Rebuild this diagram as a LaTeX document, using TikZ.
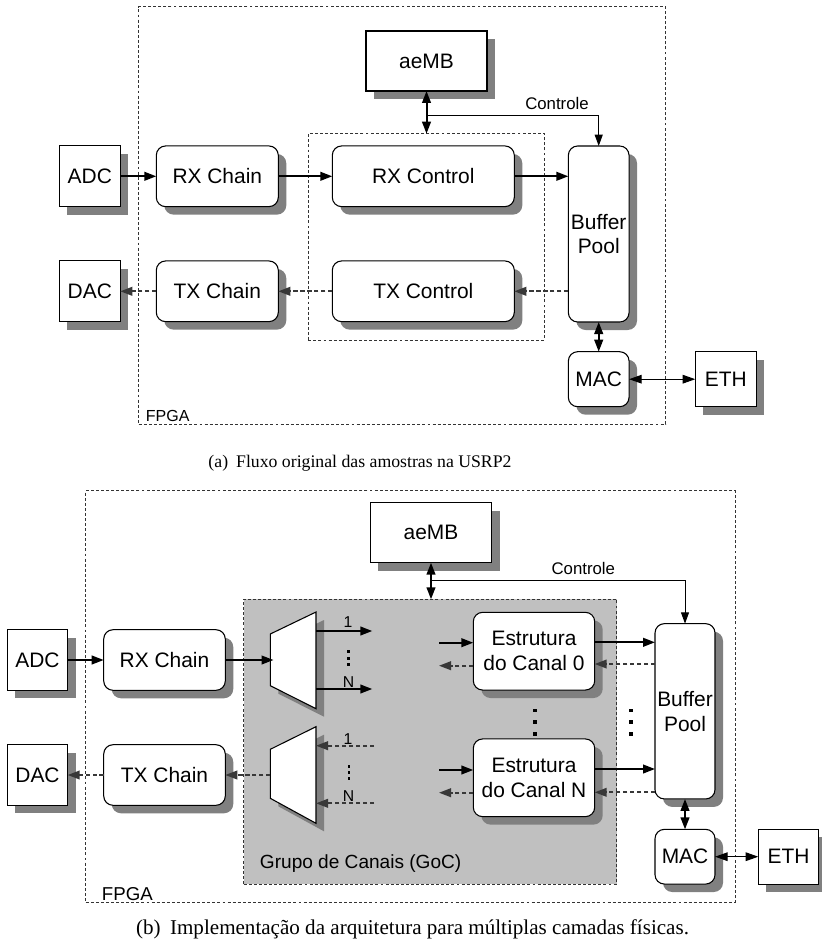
\documentclass[tikz,border=0pt]{standalone}
\usepackage{fontspec}
\setmainfont{Liberation Sans}
\newfontfamily\capfont{Liberation Serif}
\usetikzlibrary{arrows.meta}
\definecolor{shadowgray}{HTML}{808080}
\definecolor{gocgray}{HTML}{C0C0C0}
\definecolor{dgray}{HTML}{383838}
\definecolor{bordergray}{HTML}{333333}
\newcommand\fbig{\fontsize{15.7pt}{18.6pt}\selectfont}
\newcommand\fctl{\fontsize{12.6pt}{15pt}\selectfont}
\newcommand\ffpA{\fontsize{12pt}{14pt}\selectfont}
\newcommand\ffpB{\fontsize{14pt}{16pt}\selectfont}
\newcommand\fgoc{\fontsize{14.3pt}{16pt}\selectfont}
\newcommand\fnum{\fontsize{11.8pt}{13pt}\selectfont}
\newcommand\fcapA{\capfont\fontsize{13.3pt}{15pt}\selectfont}
\newcommand\fcapB{\capfont\fontsize{15.8pt}{18pt}\selectfont}
\tikzset{
  wh/.style 2 args={minimum width=#1*0.75pt, minimum height=#2*0.75pt},
  shad/.style={preaction={fill=shadowgray, draw=none, transform canvas={shift={(6pt,-6pt)}}}},
  sq/.style={draw, line width=0.8pt, fill=white, rectangle, inner sep=0pt, outer sep=0pt,
             font=\fbig, align=center, shad},
  rnd/.style={sq, rounded corners=7pt},
  fpgabox/.style={draw=bordergray, line width=0.7pt, dash pattern=on 2.2pt off 1.6pt,
             rectangle, inner sep=0pt, outer sep=0pt},
  gocbox/.style={fpgabox, fill=gocgray},
  muxs/.style={draw, line width=0.8pt, fill=white, shad},
  sarr/.style={draw, line width=1.5pt, -{Triangle[length=9pt,width=6.5pt]}},
  darr/.style={draw=dgray, line width=1.3pt, dash pattern=on 3.2pt off 2pt,
             -{Triangle[length=9pt,width=6.5pt]}, dgray},
  dblthick/.style={draw, line width=1.5pt, {Triangle[length=9pt,width=6.5pt]}-{Triangle[length=9pt,width=6.5pt]}},
  dblthin/.style={draw, line width=0.8pt, {Triangle[length=9.5pt,width=6.5pt]}-{Triangle[length=9.5pt,width=6.5pt]}},
  ctl/.style={draw, line width=0.75pt, -{Triangle[length=8.5pt,width=6pt]}},
}
\begin{document}
\begin{tikzpicture}[x=0.75pt,y=-0.75pt]
\useasboundingbox (0,0) rectangle (821,941);

% ================= (a) =================
\node[sq, wh={61}{60.7}] (adcA) at (89.8,176.3) {ADC};
\node[sq, wh={61}{60.7}] (dacA) at (89.8,291.3) {DAC};
\node[rnd, wh={122}{60.7}] (rxA) at (217.3,176.3) {RX Chain};
\node[rnd, wh={122}{60.7}] (txA) at (217.3,291.3) {TX Chain};
\node[rnd, wh={182}{60.7}] (rxcA) at (423.3,176.3) {RX Control};
\node[rnd, wh={182}{60.7}] (txcA) at (423.3,291.3) {TX Control};
\node[rnd, wh={60.7}{176}] (bufA) at (598.7,234) {Buffer\\Pool};
\node[rnd, wh={60.7}{55}] (macA) at (598.7,379.2) {MAC};
\node[sq, wh={61}{55}] (ethA) at (725.8,379.2) {ETH};
\node[sq, wh={121}{60}] (aeA) at (426.5,61) {aeMB};

\node[fpgabox, wh={527}{417.6}] (fpA) at (402.2,215.5) {};
\node[font=\ffpA, anchor=base west, inner sep=0pt] (fpAl) at (145.7,421.7) {FPGA};
\node[fpgabox, wh={236}{206.3}] (innA) at (426.3,236.85) {};

\coordinate (brA) at (426.5,115.7);
\draw[dblthick] (aeA.south) -- (aeA.south |- innA.north);
\draw[ctl] (brA) -| (bufA.north);
\node[font=\fctl, anchor=base, inner sep=0pt] (ctlA) at (557,110) {Controle};

\draw[sarr] (adcA) -- (rxA);
\draw[sarr] (rxA) -- (rxcA);
\draw[sarr] (rxcA.east) -- (rxcA.east -| bufA.west);
\draw[darr] (bufA.west |- txcA.east) -- (txcA.east);
\draw[darr] (txcA) -- (txA);
\draw[darr] (txA) -- (dacA);
\draw[dblthick] (bufA) -- (macA);
\draw[dblthin] (macA) -- (ethA);

\node[font=\fcapA, anchor=base, inner sep=0pt] (capA) at (360,467)
  {(a)\hspace{0.45em}Fluxo original das amostras na USRP2};

% ================= (b) =================
\node[fpgabox, wh={649.6}{411.3}] (fpB) at (410.5,696.35) {};
\node[gocbox, wh={373}{284.7}] (gocB) at (430.2,741.65) {};
\node[font=\ffpB, anchor=base west, inner sep=0pt] (fpBl) at (101.7,900.7) {FPGA};
\node[font=\fgoc, anchor=base west, inner sep=0pt] (gocl) at (259.7,868.3) {Grupo de Canais (GoC)};

\node[sq, wh={121.4}{60}] (aeB) at (431,532.7) {aeMB};
\node[sq, wh={60.4}{60.6}] (adcB) at (37.5,660) {ADC};
\node[sq, wh={60.4}{60.6}] (dacB) at (37.5,775) {DAC};
\node[rnd, wh={121.6}{60.6}] (rxB) at (164.5,660) {RX Chain};
\node[rnd, wh={121.6}{60.6}] (txB) at (164.5,775) {TX Chain};
\node[rnd, wh={121.4}{77.7}] (c0) at (534,651.2) {Estrutura\\do Canal 0};
\node[rnd, wh={121.4}{77.7}] (cN) at (534,777.8) {Estrutura\\do Canal N};
\node[rnd, wh={60}{175.3}] (bufB) at (685,711.3) {Buffer\\Pool};
\node[rnd, wh={60}{54.7}] (macB) at (685,856.7) {MAC};
\node[sq, wh={60.4}{54.7}] (ethB) at (788.5,856.7) {ETH};

% demux / mux
\coordinate (dmA) at (270.3,634);
\coordinate (dmB) at (316,612);
\coordinate (dmC) at (316,708.7);
\coordinate (dmD) at (270.3,685.7);
\draw[muxs] (dmA) -- (dmB) -- (dmC) -- (dmD) -- cycle;
\coordinate (mxA) at (270.3,749.3);
\coordinate (mxB) at (316,726.7);
\coordinate (mxC) at (316,823.3);
\coordinate (mxD) at (270.3,798.3);
\draw[muxs] (mxA) -- (mxB) -- (mxC) -- (mxD) -- cycle;

\coordinate (dmIn) at (273.5,660);
\coordinate (d1s) at (316,631);   \coordinate (d1e) at (372.3,631);
\coordinate (dNs) at (316,689);   \coordinate (dNe) at (372.3,689);
\coordinate (m1s) at (316,745.7); \coordinate (m1e) at (374,745.7);
\coordinate (mNs) at (316,803.3); \coordinate (mNe) at (374,803.3);
\coordinate (mOut) at (270.3,775);

\draw[sarr] (adcB) -- (rxB);
\draw[sarr] (rxB.east) -- (dmIn);
\draw[sarr] (d1s) -- (d1e);
\draw[sarr] (dNs) -- (dNe);
\draw[darr] (m1e) -- (m1s);
\draw[darr] (mNe) -- (mNs);
\draw[darr] (mOut) -- (txB.east);
\draw[darr] (txB) -- (dacB);

\node[font=\fnum, inner sep=0pt] (n1a) at (348,622.5) {1};
\node[font=\fnum, inner sep=0pt] (nNa) at (348.5,682.5) {N};
\node[font=\fnum, inner sep=0pt] (n1b) at (348,739) {1};
\node[font=\fnum, inner sep=0pt] (nNb) at (348.5,796) {N};

\foreach \yy in {650,656.7,662.7} {\fill (347,\yy) rectangle ++(2.8,2.8);}
\foreach \yy in {765,771.2,777.4} {\fill (347.5,\yy) rectangle ++(2.8,2.8);}
\foreach \yy in {708.5,720.3,732} {\fill (533,\yy) rectangle ++(3.5,3.5);}
\foreach \yy in {708.5,720.3,732} {\fill (629,\yy) rectangle ++(3.5,3.5);}

% channel arrows
\coordinate (c0in) at (439,642.7);  \coordinate (c0out) at (439,665.7);
\coordinate (cNin) at (439,770);    \coordinate (cNout) at (439,792.7);
\draw[sarr] (c0in) -- (c0in -| c0.west);
\draw[darr] (c0.west |- c0out) -- (c0out);
\draw[sarr] (cNin) -- (cNin -| cN.west);
\draw[darr] (cN.west |- cNout) -- (cNout);

\coordinate (b0s) at (655,642.3); \coordinate (b0d) at (655,664);
\coordinate (bNs) at (655,769);   \coordinate (bNd) at (655,792.3);
\draw[sarr] (c0.east |- b0s) -- (bufB.west |- b0s);
\draw[darr] (bufB.west |- b0d) -- (c0.east |- b0d);
\draw[sarr] (cN.east |- bNs) -- (bufB.west |- bNs);
\draw[darr] (bufB.west |- bNd) -- (cN.east |- bNd);

\draw[dblthick] (bufB) -- (macB);
\draw[dblthin] (macB) -- (ethB);

\coordinate (brB) at (431,580.7);
\draw[dblthick] (aeB.south) -- (aeB.south |- gocB.north);
\draw[ctl] (brB) -| (bufB.north);
\node[font=\fctl, anchor=base, inner sep=0pt] (ctlB) at (583.3,574.5) {Controle};

\node[font=\fcapB, anchor=base, inner sep=0pt] (capB) at (412.5,934)
  {(b)\hspace{0.45em}Implementação da arquitetura para múltiplas camadas físicas.};
\end{tikzpicture}
\end{document}
